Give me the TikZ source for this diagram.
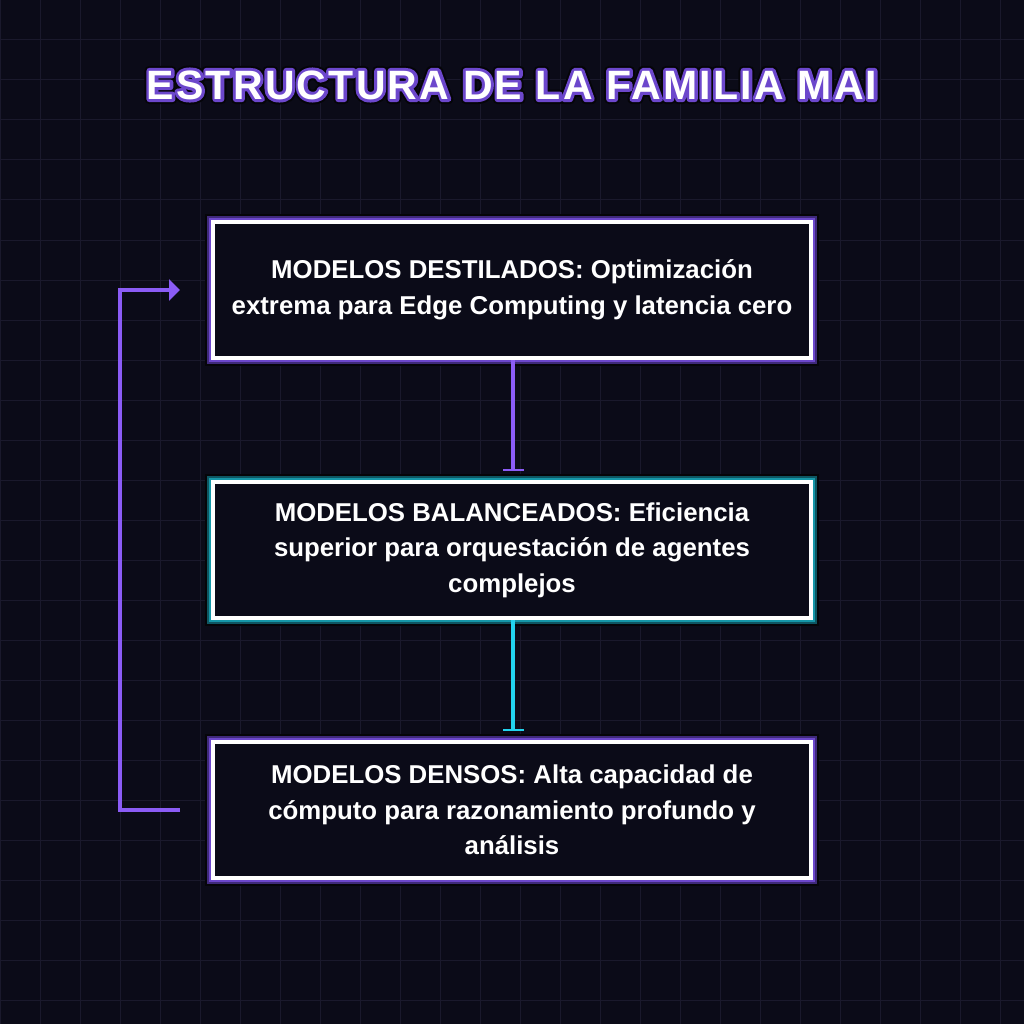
\documentclass[tikz,border=0pt]{standalone}
\usepackage{fontspec}
\setmainfont{Liberation Sans}
\newfontfamily\titlefont[LetterSpace=5.5]{Liberation Sans}
\usepackage{xcolor}
\definecolor{vizBg}{HTML}{0B0B18}
\definecolor{vizGrid}{HTML}{1A192C}
\definecolor{vizEdge}{HTML}{050509}
\definecolor{vizPurple}{HTML}{8B5CF6}
\definecolor{vizPurpleGlow}{HTML}{6C47CC}
\definecolor{vizPurpleDim}{HTML}{3F2A7A}
\definecolor{vizCyan}{HTML}{22D3EE}
\definecolor{vizCyanGlow}{HTML}{1597A8}
\definecolor{vizCyanDim}{HTML}{0E5662}
\usetikzlibrary{arrows.meta}

% stroked title text (fill + stroke rendering mode, round joins)
\newcommand{\strokedtext}[2]{\special{pdf:literal direct 2 Tr 1 j #1 w}#2\special{pdf:literal direct 0 Tr 0 j}}

\tikzset{
  gridline/.style={vizGrid, line width=1pt},
  tierbox/.style={rectangle, minimum width=598pt, minimum height=136pt,
    line width=4pt, draw=white, fill=vizBg, text=white, align=center,
    font=\bfseries\fontsize{25.8}{35.5}\selectfont,
    preaction={draw=vizEdge, line width=16pt},
    preaction={draw=#1Dim, line width=12pt},
    preaction={draw=#1Glow, line width=8pt}},
  flow/.style={#1, line width=4pt, shorten >=9pt,
    -{Bar[width=21pt, line width=2pt]}},
  loopback/.style={vizPurple, line width=4pt,
    -{Triangle[length=11pt, width=21pt]}},
  titletext/.style={font=\titlefont\bfseries\fontsize{41}{48}\selectfont}
}

\begin{document}
\begin{tikzpicture}[x=1pt, y=-1pt]
  % background and grid
  \fill[vizBg] (0,0) rectangle (1024,1024);
  \useasboundingbox (0,0) rectangle (1024,1024);
  \foreach \g in {0,40,...,1000} {
    \draw[gridline] (\g,0) -- (\g,1024);
    \draw[gridline] (0,\g) -- (1024,\g);
  }

  % title with outline
  \node[titletext, text=vizEdge] (title-edge) at (512,85) {\strokedtext{10}{ESTRUCTURA DE LA FAMILIA MAI}};
  \node[titletext, text=vizPurpleGlow] (title-glow) at (512,85) {\strokedtext{6}{ESTRUCTURA DE LA FAMILIA MAI}};
  \node[titletext, text=white] (title) at (512,85) {ESTRUCTURA DE LA FAMILIA MAI};

  % tiers
  \node[tierbox=vizPurple] (destilados) at (512,290) {MODELOS DESTILADOS: Optimización\\extrema para Edge Computing y latencia cero};
  \node[tierbox=vizCyan] (balanceados) at (512,550) {MODELOS BALANCEADOS: Eficiencia\\superior para orquestación de agentes\\complejos};
  \node[tierbox=vizPurple] (densos) at (512,810) {MODELOS DENSOS: Alta capacidad de\\cómputo para razonamiento profundo y\\análisis};

  % connectors
  \draw[flow=vizPurple] ([xshift=1pt]destilados.south) -- ([xshift=1pt]balanceados.north);
  \draw[flow=vizCyan] ([xshift=1pt]balanceados.south) -- ([xshift=1pt]densos.north);
  \draw[loopback] ([xshift=-31pt]densos.west) -- ++(-60,0) |- ([xshift=-31pt]destilados.west);
\end{tikzpicture}
\end{document}
